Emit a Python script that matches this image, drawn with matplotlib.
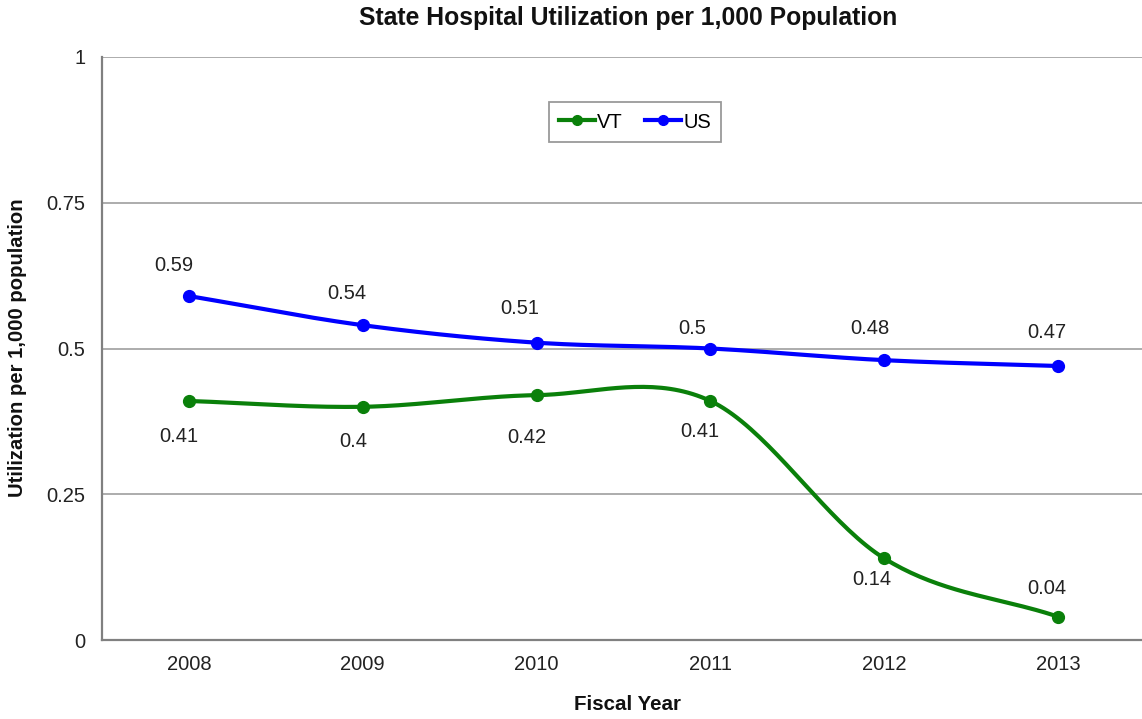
import numpy as np
import matplotlib
matplotlib.use("Agg")
import matplotlib.pyplot as plt
from matplotlib.lines import Line2D

years = ["2008", "2009", "2010", "2011", "2012", "2013"]
vt = [0.41, 0.40, 0.42, 0.41, 0.14, 0.04]
us = [0.59, 0.54, 0.51, 0.50, 0.48, 0.47]
yticks = [0, 0.25, 0.5, 0.75, 1]
ytick_labels = ["0", "0.25", "0.5", "0.75", "1"]

# label offsets in pixels (dx, dy), styling only
us_off = [(-15, 31), (-16, 32), (-17, 34), (-18, 20), (-14, 32), (-11, 33)]
vt_off = [(-10, -36), (-9, -35), (-10, -42), (-11, -31), (-12, -21), (-11, 28)]

plt.rcParams['font.family'] = ['Liberation Sans', 'DejaVu Sans']

W, H = 1142, 719
fig = plt.figure(figsize=(W / 100, H / 100), dpi=100)
ax = fig.add_axes([102 / W, 1 - 640 / H, (1145 - 102) / W, (640 - 57) / H])


def catmull_rom(x, y, n=40):
    x = np.asarray(x, float)
    y = np.asarray(y, float)
    px = np.concatenate([[2 * x[0] - x[1]], x, [2 * x[-1] - x[-2]]])
    py = np.concatenate([[2 * y[0] - y[1]], y, [2 * y[-1] - y[-2]]])
    xs, ys = [], []
    for i in range(1, len(px) - 2):
        p0, p1, p2, p3 = (np.array([px[j], py[j]]) for j in (i - 1, i, i + 1, i + 2))
        c1 = p1 + (p2 - p0) / 6
        c2 = p2 - (p3 - p1) / 6
        t = np.linspace(0, 1, n)[:, None]
        b = ((1 - t) ** 3) * p1 + 3 * ((1 - t) ** 2) * t * c1 + 3 * (1 - t) * t ** 2 * c2 + t ** 3 * p2
        xs.append(b[:, 0]); ys.append(b[:, 1])
    return np.concatenate(xs), np.concatenate(ys)


xpos = np.arange(len(years))
green = "#0a800a"
blue = "#0000ff"

for vals, col in ((vt, green), (us, blue)):
    sx, sy = catmull_rom(xpos, vals)
    ax.plot(sx, sy, color=col, lw=3, solid_capstyle='round', zorder=3)
    ax.plot(xpos, vals, 'o', color=col, ms=8.5, zorder=4)

for vals, offs in ((us, us_off), (vt, vt_off)):
    for i, v in enumerate(vals):
        dx, dy = offs[i]
        ax.annotate(f"{v:g}", (xpos[i], v), xytext=(dx * 0.72, dy * 0.72),
                    textcoords='offset points', ha='center', va='center',
                    fontsize=14.5, color='#222222')

ax.set_xlim(-0.5, len(years) - 0.5)
ax.set_ylim(0, 1)
ax.set_xticks(xpos)
ax.set_xticklabels(years)
ax.set_yticks(yticks)
ax.set_yticklabels(ytick_labels)
ax.tick_params(length=0, labelsize=14.5, colors='#222222')
ax.tick_params(axis='y', pad=12)
ax.tick_params(axis='x', pad=11)
ax.grid(axis='y', color='#a6a6a6', lw=1.3)
ax.set_axisbelow(True)
for s in ('top', 'right'):
    ax.spines[s].set_visible(False)
for s in ('left', 'bottom'):
    ax.spines[s].set_color('#808080')
    ax.spines[s].set_linewidth(1.6)

fig.text(628 / W, 1 - 18 / H, "State Hospital Utilization per 1,000 Population",
         ha='center', va='center', fontsize=17.8, fontweight='bold', color='#111111')
fig.text(18 / W, 1 - 348 / H, "Utilization per 1,000 population", rotation=90,
         ha='center', va='center', fontsize=14.6, fontweight='bold', color='#111111')
fig.text(627 / W, 1 - 704 / H, "Fiscal Year", ha='center', va='center',
         fontsize=14.8, fontweight='bold', color='#111111')

handles = [Line2D([], [], color=green, lw=3, marker='o', ms=7),
           Line2D([], [], color=blue, lw=3, marker='o', ms=7)]
leg = ax.legend(handles, ["VT", "US"], loc='center', bbox_to_anchor=(635 / W, 1 - 122 / H),
                bbox_transform=fig.transFigure, ncol=2, fontsize=14.5, frameon=True,
                fancybox=False, edgecolor='#808080', handlelength=1.8, handletextpad=0.1,
                columnspacing=1.1, borderpad=0.5)
leg.get_frame().set_linewidth(1.3)

fig.savefig("out.png", dpi=100)
